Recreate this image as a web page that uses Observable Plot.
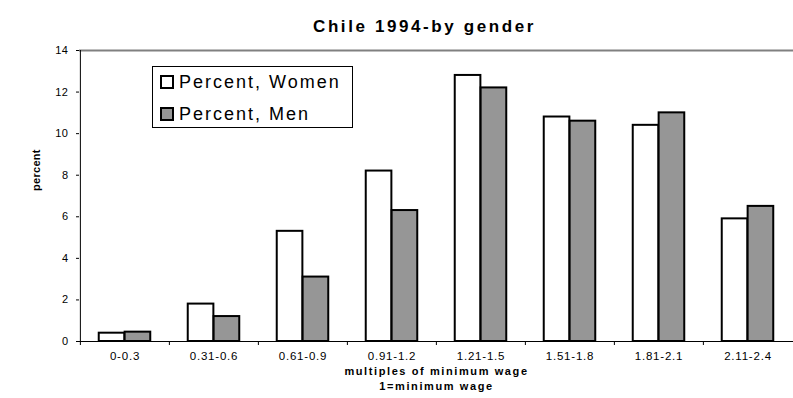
<!DOCTYPE html>
<html>
<head>
<meta charset="utf-8">
<script src="https://cdn.jsdelivr.net/npm/d3@7"></script>
<script src="https://cdn.jsdelivr.net/npm/@observablehq/plot@0.6"></script>
<style>
  body { margin: 0; background: #fff; }
  #chart { position: relative; width: 793px; height: 398px; font-family: "Liberation Sans", Arial, sans-serif; }
  #chart svg { font-family: "Liberation Sans", Arial, sans-serif; }
  .legend { position: absolute; left: 152px; top: 66px; width: 199px; height: 60px; border: 1px solid #000; background: #fff; }
  .legend .item { position: absolute; left: 7px; display: flex; align-items: center; font-size: 18px; letter-spacing: 2px; color: #000; line-height: 20px; }
  .legend .sw { width: 10px; height: 10px; border: 2px solid #000; margin-right: 5px; }
</style>
</head>
<body>
<div id="chart"></div>
<script>
// Earnings distribution, Chile 1994, in multiples of the minimum wage
const categories = ["0-0.3", "0.31-0.6", "0.61-0.9", "0.91-1.2", "1.21-1.5", "1.51-1.8", "1.81-2.1", "2.11-2.4"];
const women = [0.4, 1.8, 5.3, 8.2, 12.8, 10.8, 10.4, 5.9];
const men = [0.45, 1.2, 3.1, 6.3, 12.2, 10.6, 11.0, 6.5];
const yTicks = [0, 2, 4, 6, 8, 10, 12, 14];
const seriesNames = ["Percent, Women", "Percent, Men"];
const seriesFills = ["#ffffff", "#969696"];
const title = "Chile 1994-by gender";
const yTitle = "percent";
const xTitles = ["multiples of minimum wage", "1=minimum wage"];

const rows = categories.map((c, i) => ({cat: c, women: women[i], men: men[i]}));

const width = 793, height = 398;
const marginLeft = 79, marginRight = 0, marginTop = 50, marginBottom = 57;
const bw = (width - marginLeft - marginRight) / categories.length;
const outer = bw * 0.21;   // gap between the pair of bars and the band edge
const half = bw / 2;

const chart = Plot.plot({
  width, height, marginLeft, marginRight, marginTop, marginBottom,
  style: {fontSize: "11px", color: "#000", background: "#fff"},
  x: {type: "band", domain: categories, padding: 0},
  y: {domain: [0, 14]},
  marks: [
    // plot-area border on top, axis lines on left and bottom
    Plot.ruleY([14], {stroke: "#808080", strokeWidth: 2}),
    Plot.ruleX([categories[0]], {dx: -half, y1: 0, y2: 14, stroke: "#000"}),
    Plot.barY(rows, {x: "cat", y: "women", fill: seriesFills[0], stroke: "#000", strokeWidth: 2,
      insetLeft: outer, insetRight: half}),
    Plot.barY(rows, {x: "cat", y: "men", fill: seriesFills[1], stroke: "#000", strokeWidth: 2,
      insetLeft: half, insetRight: outer}),
    Plot.ruleY([0], {stroke: "#000"}),
    Plot.axisY({ticks: yTicks, tickSize: 3, tickPadding: 8, label: null, fontSize: 11}),
    // category tick marks sit on the band boundaries
    Plot.axisX({tickSize: 4, text: null, dx: -half, label: null}),
    Plot.axisX({tickSize: 0, tickPadding: 10.5, label: null, fontSize: 11.5}),
    Plot.text([title], {frameAnchor: "top", dy: -31, dx: -12, fontSize: 17, fontWeight: "bold"}),
    Plot.text([yTitle], {frameAnchor: "left", dx: -43, dy: -5, rotate: -90, fontSize: 11, fontWeight: "bold"}),
    Plot.text([xTitles[0]], {frameAnchor: "bottom", dy: 33, fontSize: 11, fontWeight: "bold"}),
    Plot.text([xTitles[1]], {frameAnchor: "bottom", dy: 48.5, fontSize: 11, fontWeight: "bold"})
  ]
});

// wide tracking on the chart texts
const tracking = (t) =>
  t === title ? 2.6 :
  t === yTitle ? 0.3 :
  xTitles.includes(t) ? 1.6 :
  categories.includes(t) ? 0.8 : 0.5;
d3.select(chart).selectAll("text").each(function() {
  this.style.letterSpacing = tracking(this.textContent) + "px";
});

const root = document.getElementById("chart");
root.appendChild(chart);

// legend box
const legend = document.createElement("div");
legend.className = "legend";
seriesNames.forEach((name, i) => {
  const item = document.createElement("div");
  item.className = "item";
  item.style.top = (i === 0 ? 5 : 37) + "px";
  const sw = document.createElement("span");
  sw.className = "sw";
  sw.style.background = seriesFills[i];
  const label = document.createElement("span");
  label.textContent = name;
  item.appendChild(sw);
  item.appendChild(label);
  legend.appendChild(item);
});
root.appendChild(legend);
</script>
</body>
</html>
